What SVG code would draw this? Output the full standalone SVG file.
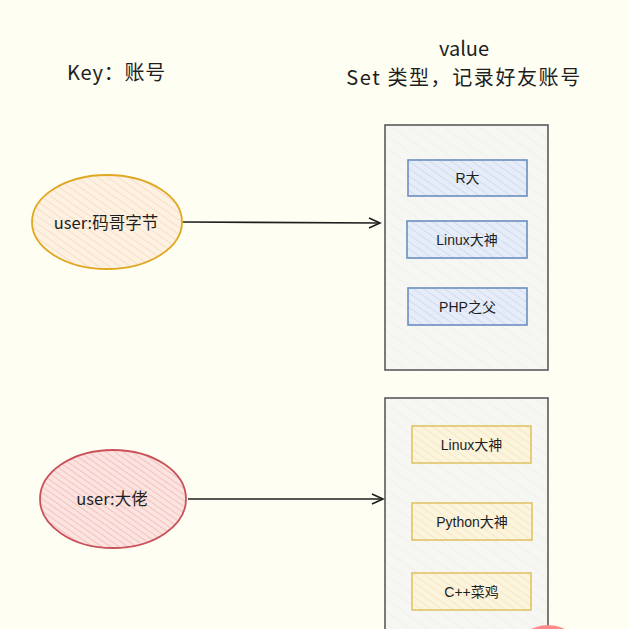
<svg xmlns="http://www.w3.org/2000/svg" width="629" height="629" viewBox="0 0 629 629">
  <defs>
    <pattern id="hOrange" patternUnits="userSpaceOnUse" width="6" height="6" patternTransform="rotate(-55)">
      <rect width="6" height="6" fill="#fdf1e2"/>
      <line x1="0" y1="0" x2="0" y2="6" stroke="#f6d9c2" stroke-width="1.6"/>
    </pattern>
    <pattern id="hRed" patternUnits="userSpaceOnUse" width="5" height="5" patternTransform="rotate(-55)">
      <rect width="5" height="5" fill="#fbe3df"/>
      <line x1="0" y1="0" x2="0" y2="5" stroke="#f0b4b0" stroke-width="1.4"/>
    </pattern>
    <pattern id="hBlue" patternUnits="userSpaceOnUse" width="6" height="6" patternTransform="rotate(-55)">
      <rect width="6" height="6" fill="#e6edf8"/>
      <line x1="0" y1="0" x2="0" y2="6" stroke="#c9d8ef" stroke-width="1.6"/>
    </pattern>
    <pattern id="hYellow" patternUnits="userSpaceOnUse" width="6" height="6" patternTransform="rotate(-55)">
      <rect width="6" height="6" fill="#fcf4dc"/>
      <line x1="0" y1="0" x2="0" y2="6" stroke="#f3e6c0" stroke-width="1.6"/>
    </pattern>
    <pattern id="hGray" patternUnits="userSpaceOnUse" width="10" height="10" patternTransform="rotate(-55)">
      <rect width="10" height="10" fill="#f6f6f2"/>
      <line x1="0" y1="0" x2="0" y2="10" stroke="#efefea" stroke-width="1.5"/>
    </pattern>
    <marker id="arr" markerWidth="14" markerHeight="12" refX="12" refY="6" orient="auto" markerUnits="userSpaceOnUse">
      <path d="M1,1 L12,6 L1,11" fill="none" stroke="#1e1e1e" stroke-width="1.6"/>
    </marker>
    <style>
      .t{font-family:"Noto Sans CJK SC","Noto Sans",sans-serif;fill:#1e1e1e;}
      .lbl{font-size:20px;}
      .node{font-size:16.5px;text-anchor:middle;}
      .item{font-family:"Liberation Sans","Noto Sans CJK SC",sans-serif;font-size:14px;text-anchor:middle;fill:#1e1e1e;}
      .set{fill:url(#hGray);stroke:#5a5a5a;stroke-width:1.6;}
      .blue{fill:url(#hBlue);stroke:#6c8ebf;stroke-width:1.6;}
      .yel{fill:url(#hYellow);stroke:#e0c36a;stroke-width:1.6;}
      .conn{stroke:#1e1e1e;stroke-width:1.6;fill:none;}
    </style>
  </defs>
  <rect width="629" height="629" fill="#fffef3"/>

  <g id="labels">
    <text class="t lbl" x="67" y="80" letter-spacing="0.8">Key：账号</text>
    <text class="t lbl" x="464" y="56" text-anchor="middle">value</text>
    <text class="t lbl" x="464" y="85" text-anchor="middle" letter-spacing="1.6">Set 类型，记录好友账号</text>
  </g>

  <g id="set1">
    <rect class="set" x="385" y="125" width="163" height="245"/>
  </g>
  <g id="item-r">
    <rect class="blue" x="408" y="160" width="119" height="36"/>
    <text class="item" x="467.5" y="183">R大</text>
  </g>
  <g id="item-linux1">
    <rect class="blue" x="407" y="221" width="120" height="37"/>
    <text class="item" x="467" y="244.5">Linux大神</text>
  </g>
  <g id="item-php">
    <rect class="blue" x="408" y="288" width="119" height="37"/>
    <text class="item" x="467.5" y="311.5">PHP之父</text>
  </g>

  <g id="set2">
    <rect class="set" x="385" y="398" width="163" height="250"/>
  </g>
  <g id="item-linux2">
    <rect class="yel" x="412" y="426" width="119" height="37"/>
    <text class="item" x="471.5" y="449.5">Linux大神</text>
  </g>
  <g id="item-python">
    <rect class="yel" x="412" y="503" width="120" height="37"/>
    <text class="item" x="472" y="526.5">Python大神</text>
  </g>
  <g id="item-cpp">
    <rect class="yel" x="412" y="573" width="119" height="37"/>
    <text class="item" x="471.5" y="596.5">C++菜鸡</text>
  </g>

  <g id="key1">
    <ellipse cx="107" cy="222" rx="75" ry="47" fill="url(#hOrange)" stroke="#e0a820" stroke-width="1.8"/>
    <text class="t node" x="106" y="229">user:码哥字节</text>
  </g>
  <g id="key2">
    <ellipse cx="113" cy="499" rx="73" ry="49" fill="url(#hRed)" stroke="#c9525a" stroke-width="1.8"/>
    <text class="t node" x="112" y="505">user:大佬</text>
  </g>

  <g id="connectors">
    <line class="conn" x1="183" y1="222" x2="380" y2="223" marker-end="url(#arr)"/>
    <line class="conn" x1="188" y1="499" x2="383" y2="499" marker-end="url(#arr)"/>
  </g>

  <g id="red-blob">
    <circle cx="548" cy="663" r="38" fill="#ff8a8a"/>
  </g>
</svg>
